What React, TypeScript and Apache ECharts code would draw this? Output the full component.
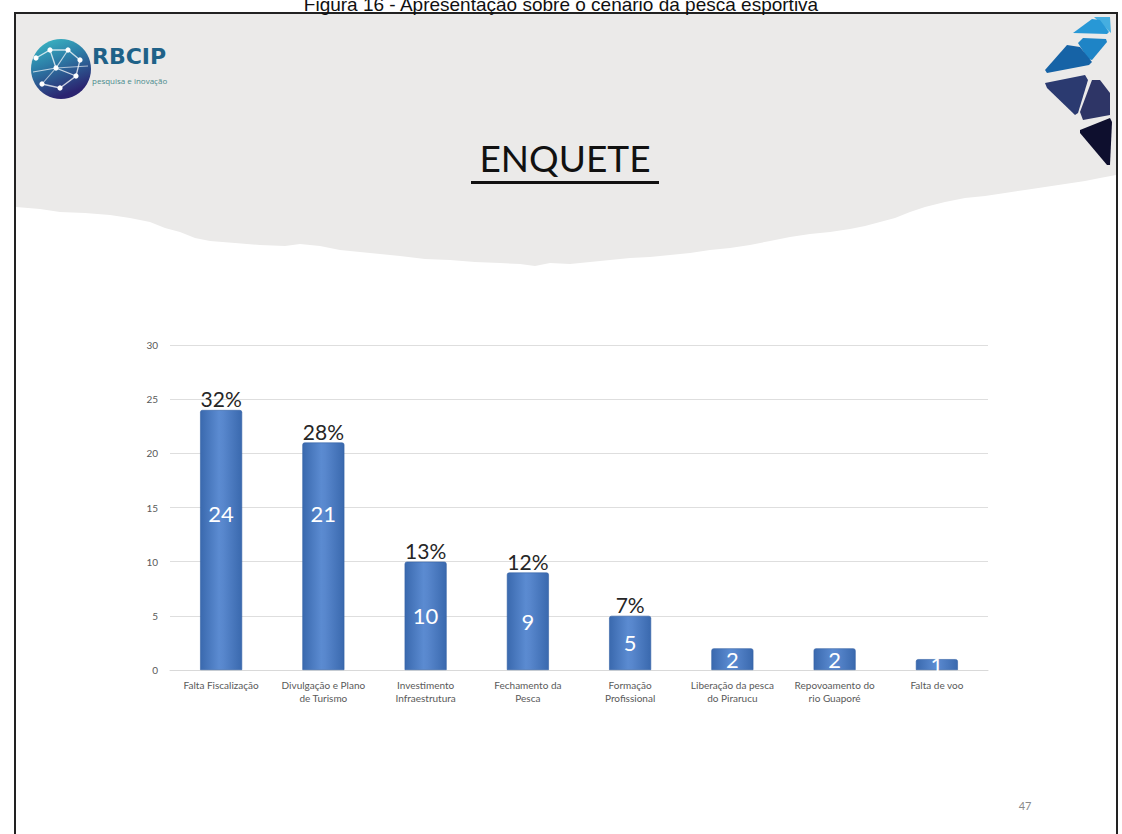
import React, { useEffect, useRef } from "react";
import * as echarts from "echarts";

const categories = [
  "Falta Fiscalização",
  "Divulgação e Plano\nde Turismo",
  "Investimento\nInfraestrutura",
  "Fechamento da\nPesca",
  "Formação\nProfissional",
  "Liberação da pesca\ndo Pirarucu",
  "Repovoamento do\nrio Guaporé",
  "Falta de voo",
];
const counts = [24, 21, 10, 9, 5, 2, 2, 1];
const percentLabels = ["32%", "28%", "13%", "12%", "7%", "", "", ""];
const yTicks = { min: 0, max: 30, interval: 5 };
const valueLabelShift = [-27, -43, 0, 0, 0, 0, 0, 0];

const caption = "Figura 16 - Apresentação sobre o cenário da pesca esportiva";
const slideTitle = "ENQUETE";
const pageNumber = "47";

const headerEdge: number[][] = [
  [16, 207], [40, 209], [60, 212], [85, 213], [110, 215], [130, 218], [150, 222], [165, 228],
  [180, 232], [195, 238], [210, 241], [235, 243], [260, 245], [285, 246], [300, 244], [320, 246],
  [340, 250], [360, 252], [380, 254], [400, 256], [425, 259], [450, 260], [475, 262], [500, 263],
  [520, 264], [535, 266], [550, 263], [570, 264], [590, 262], [610, 260], [630, 258], [650, 257],
  [670, 255], [690, 253], [710, 250], [730, 248], [750, 245], [770, 241], [790, 237], [810, 234],
  [830, 232], [850, 229], [865, 226], [880, 222], [895, 218], [910, 212], [925, 207], [945, 202],
  [965, 198], [985, 196], [1005, 193], [1025, 190], [1045, 187], [1065, 184], [1085, 181],
  [1100, 178], [1116, 175],
];

const rightLogo: { pts: number[][]; color: string }[] = [
  { pts: [[1094, 17], [1110, 17], [1111, 33]], color: "#45aee0" },
  { pts: [[1073, 33], [1092, 19], [1100, 20], [1109, 32], [1107, 34]], color: "#2898d6" },
  { pts: [[1078, 43], [1083, 38], [1106, 39], [1107, 42], [1092, 60], [1088, 59]], color: "#1e84c6" },
  { pts: [[1045, 70], [1067, 45], [1080, 47], [1092, 62], [1089, 65], [1047, 73]], color: "#1663a6" },
  { pts: [[1045, 83], [1085, 75], [1088, 80], [1078, 113], [1075, 115], [1047, 88]], color: "#2b3a70" },
  { pts: [[1080, 112], [1092, 80], [1100, 80], [1110, 93], [1110, 115], [1083, 120]], color: "#2e3566" },
  { pts: [[1080, 130], [1110, 118], [1112, 122], [1110, 165], [1107, 165], [1080, 133]], color: "#0e0f2e" },
];

export default function App() {
  const ref = useRef<HTMLDivElement>(null);
  useEffect(() => {
    if (!ref.current) return;
    const chart = echarts.init(ref.current, null, { renderer: "svg" });
    const barGradient = new echarts.graphic.LinearGradient(0, 0, 1, 0, [
      { offset: 0, color: "#3a69ae" },
      { offset: 0.45, color: "#5b8bd1" },
      { offset: 0.55, color: "#5887cd" },
      { offset: 1, color: "#3a69ae" },
    ]);
    const headerPoly = [[16, 14], [1116, 14], ...headerEdge.slice().reverse()];
    const graphics: any[] = [
      { type: "polygon", shape: { points: headerPoly }, style: { fill: "#ebeae9" }, silent: true, z: 0 },
      { type: "rect", shape: { x: 15, y: 13, width: 1102, height: 840 }, style: { fill: "none", stroke: "#222", lineWidth: 2 }, silent: true, z: 5 },
      {
        type: "text", x: 561, y: 4, z: 6,
        style: { text: caption, fill: "#111", font: "19px 'Liberation Sans', Arial, sans-serif", align: "center", verticalAlign: "middle" },
      },
      {
        type: "text", x: 565, y: 157, z: 6,
        style: { text: slideTitle, fill: "#111", font: "37px Lato, 'Open Sans', sans-serif", align: "center", verticalAlign: "middle" },
      },
      { type: "rect", shape: { x: 471, y: 181, width: 188, height: 3 }, style: { fill: "#111" }, z: 6 },
      {
        type: "circle", shape: { cx: 61, cy: 69, r: 30 }, z: 6,
        style: {
          fill: new echarts.graphic.LinearGradient(0, 0, 0.4, 1, [
            { offset: 0, color: "#3cc0c8" },
            { offset: 0.45, color: "#2d7fa8" },
            { offset: 1, color: "#2b2470" },
          ]),
        },
      },
      { type: "polyline", shape: { points: [[36, 58], [50, 50], [68, 50], [80, 60], [76, 76], [60, 88], [42, 84]] }, style: { stroke: "rgba(255,255,255,0.75)", lineWidth: 1.3, fill: "none" }, z: 7 },
      { type: "polyline", shape: { points: [[50, 50], [56, 68], [76, 76]] }, style: { stroke: "rgba(255,255,255,0.75)", lineWidth: 1.3, fill: "none" }, z: 7 },
      { type: "polyline", shape: { points: [[33, 72], [56, 68], [68, 50]] }, style: { stroke: "rgba(255,255,255,0.7)", lineWidth: 1.2, fill: "none" }, z: 7 },
      { type: "polyline", shape: { points: [[42, 84], [56, 68], [88, 66]] }, style: { stroke: "rgba(255,255,255,0.6)", lineWidth: 1.1, fill: "none" }, z: 7 },
      ...[[50, 50], [68, 50], [80, 60], [56, 68], [76, 76], [60, 88], [42, 84], [36, 58]].map((p) => ({
        type: "circle", shape: { cx: p[0], cy: p[1], r: 2.6 }, style: { fill: "#ffffff" }, z: 8,
      })),
      {
        type: "text", x: 92, y: 56, z: 6,
        style: { text: "RBCIP", fill: "#1f6288", font: "bold 22px 'DejaVu Sans', sans-serif", align: "left", verticalAlign: "middle" },
      },
      {
        type: "text", x: 92, y: 80, z: 6,
        style: { text: "pesquisa e inovação", fill: "#4a8a8c", font: "8px 'Open Sans', sans-serif", align: "left", verticalAlign: "middle" },
      },
      ...rightLogo.map((p) => ({ type: "polygon", shape: { points: p.pts }, style: { fill: p.color }, z: 6, silent: true })),
      {
        type: "text", x: 1025, y: 805, z: 6,
        style: { text: pageNumber, fill: "#8a8a8a", font: "11px Lato, sans-serif", align: "center", verticalAlign: "middle" },
      },
    ];

    chart.setOption({
      animation: false,
      backgroundColor: "#ffffff",
      graphic: graphics,
      grid: { left: 170, right: 134, top: 345, bottom: 164, containLabel: false },
      xAxis: {
        type: "category",
        data: categories,
        axisLine: { lineStyle: { color: "#d9d9d9", width: 1 } },
        axisTick: { show: false },
        axisLabel: {
          interval: 0,
          color: "#595959",
          fontSize: 10,
          lineHeight: 13,
          margin: 8,
          fontFamily: "Lato, 'Open Sans', sans-serif",
        },
      },
      yAxis: {
        type: "value",
        min: yTicks.min,
        max: yTicks.max,
        interval: yTicks.interval,
        axisLine: { show: false },
        axisTick: { show: false },
        splitLine: { lineStyle: { color: "#dedede", width: 1 } },
        axisLabel: { color: "#595959", fontSize: 10, margin: 12, fontFamily: "Lato, 'Open Sans', sans-serif" },
      },
      series: [
        {
          type: "bar",
          barWidth: 42,
          z: 3,
          data: counts.map((v, i) => ({
            value: v,
            label: { offset: [0, valueLabelShift[i]] },
          })),
          itemStyle: { color: barGradient, borderRadius: [2, 2, 0, 0], borderColor: "#3462a5", borderWidth: 0.6 },
          label: {
            show: true,
            position: "inside",
            color: "#ffffff",
            fontSize: 22,
            fontFamily: "Lato, 'Open Sans', sans-serif",
          },
        },
        {
          type: "bar",
          barWidth: 42,
          barGap: "-100%",
          z: 4,
          silent: true,
          data: counts,
          itemStyle: { color: "rgba(0,0,0,0)" },
          label: {
            show: true,
            position: "top",
            distance: 1,
            color: "#262626",
            fontSize: 21,
            fontFamily: "Lato, 'Open Sans', sans-serif",
            formatter: (p: any) => percentLabels[p.dataIndex],
          },
        },
      ],
    });
    return () => chart.dispose();
  }, []);
  return <div ref={ref} style={{ position: "fixed", left: 0, top: 0, width: 1122, height: 834 }} />;
}
